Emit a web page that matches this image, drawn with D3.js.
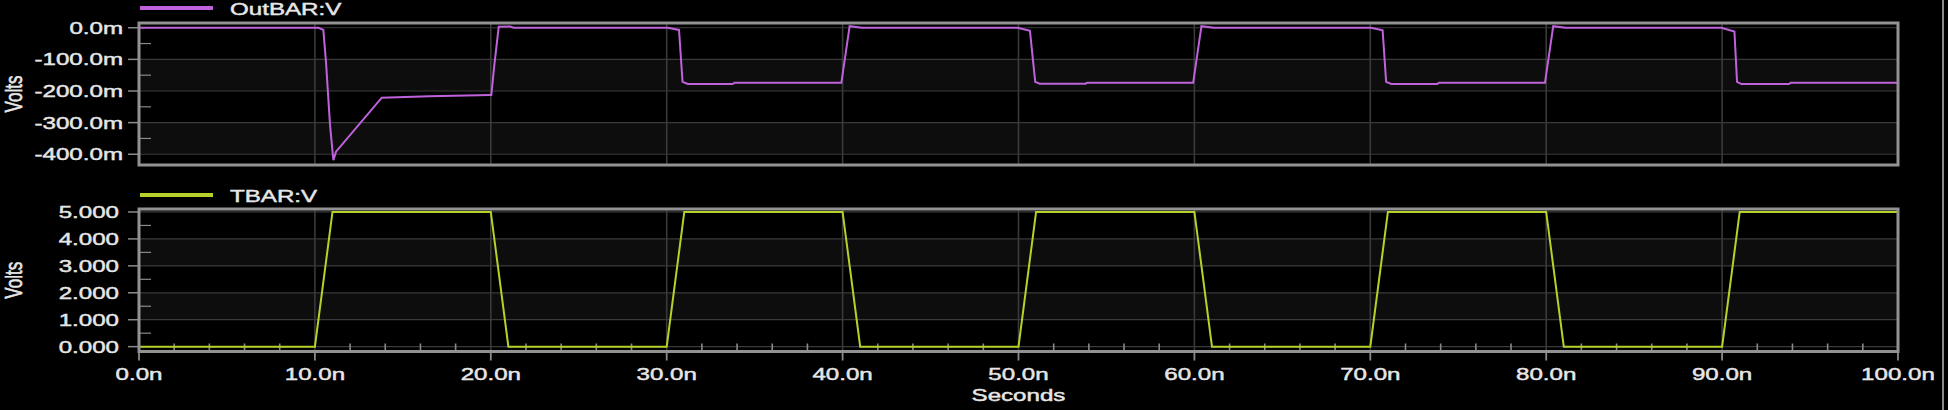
<!DOCTYPE html>
<html><head><meta charset="utf-8">
<script src="https://cdn.jsdelivr.net/npm/d3@7"></script>
<style>html,body{margin:0;padding:0;background:#000;overflow:hidden}</style>
</head><body>
<svg id="c" width="1948" height="410"></svg>
<script>
// ---- data ----
const timeTicks = [0,10,20,30,40,50,60,70,80,90,100];
const timeLabels = ["0.0n","10.0n","20.0n","30.0n","40.0n","50.0n","60.0n","70.0n","80.0n","90.0n","100.0n"];
const outTicks = [0,-100,-200,-300,-400];
const outLabels = ["0.0m","-100.0m","-200.0m","-300.0m","-400.0m"];
const outMinor = [-50,-150,-250,-350];
const tbarTicks = [5,4,3,2,1,0];
const tbarLabels = ["5.000","4.000","3.000","2.000","1.000","0.000"];
const tbarMinor = [4.5,3.5,2.5,1.5,0.5];

// OutBAR:V (time in ns, value in mV)
const outTime = [0,10.2,10.48,10.63,10.86,11.05,11.2,13.8,16.5,18.6,19.95,20.03,20.2,20.45,21.1,21.3,
  30.05,30.7,30.9,31.2,33.75,33.85,39.93,40.4,41.1,
  49.95,50.65,50.95,51.2,53.8,53.9,59.93,60.4,61.1,
  70.05,70.7,70.9,71.2,73.8,73.9,79.93,80.4,81.1,
  89.95,90.7,90.85,91.1,93.8,93.9,100];
const outVals = [0,0,-7,-108,-308,-419,-392,-221,-217,-214,-213,-213,-118,3,4,0,
  0,-7,-171,-178,-178,-174,-174,5,0,
  0,-10,-171,-177,-177,-174,-174,5,0,
  0,-8,-171,-178,-178,-174,-174,5,0,
  0,-12,-171,-178,-178,-174,-174];

// TBAR:V (time in ns, value in V)
const tbarTime = [0,10,11,20,21,30,31,40,41,50,51,60,61,70,71,80,81,90,91,100];
const tbarVals = [0,0,5,5,0,0,5,5,0,0,5,5,0,0,5,5,0,0,5,5];

// ---- layout ----
const SX = 1.42; // horizontal text stretch of the original screenshot
const svg = d3.select("#c");
svg.append("rect").attr("width",1948).attr("height",410).attr("fill","#000");
const x = d3.scaleLinear().domain([0,100]).range([139,1898]);
const textCol = "#e6e6e6", font = "Liberation Sans, Arial, sans-serif";

function stretchedText(g, tx, ty, str, anchor, size, rot){
  return g.append("text").attr("transform",`translate(${tx},${ty}) scale(${SX},1)` + (rot?` rotate(${rot})`:""))
    .attr("text-anchor",anchor).attr("fill",textCol).attr("stroke",textCol).attr("stroke-width",0.45)
    .attr("font-family",font).attr("font-size",size).text(str);
}

const panels = [
  {top:23, bottom:165, domain:[-434,15], ticks:outTicks, labels:outLabels, minor:outMinor,
   legend:"OutBAR:V", legendY:8, color:"#c062dc", t:outTime, v:outVals, labelEnd:123, xlabels:false},
  {top:209, bottom:351.5, domain:[-0.18,5.11], ticks:tbarTicks, labels:tbarLabels, minor:tbarMinor,
   legend:"TBAR:V", legendY:195, color:"#b9d02a", t:tbarTime, v:tbarVals, labelEnd:119, xlabels:true}
];

panels.forEach(p=>{
  const y = d3.scaleLinear().domain(p.domain).range([p.bottom,p.top]);
  const g = svg.append("g");
  // bands
  for(let i=0;i<p.ticks.length-1;i++){
    if(i%2===1){
      const y0=y(p.ticks[i]), y1=y(p.ticks[i+1]);
      g.append("rect").attr("x",x(0)).attr("width",x(100)-x(0))
        .attr("y",Math.min(y0,y1)).attr("height",Math.abs(y1-y0)).attr("fill","#0d0d0d");
    }
  }
  // grid
  g.selectAll(".hg").data(p.ticks).enter().append("line")
    .attr("x1",x(0)).attr("x2",x(100)).attr("y1",d=>y(d)).attr("y2",d=>y(d))
    .attr("stroke","#3a3a3a").attr("stroke-width",1.2);
  g.selectAll(".vg").data(timeTicks.slice(1,-1)).enter().append("line")
    .attr("x1",d=>x(d)).attr("x2",d=>x(d)).attr("y1",p.top).attr("y2",p.bottom)
    .attr("stroke","#3a3a3a").attr("stroke-width",1.6);
  // minor y ticks
  g.selectAll(".my").data(p.minor).enter().append("line")
    .attr("x1",x(0)).attr("x2",x(0)+12).attr("y1",d=>y(d)).attr("y2",d=>y(d))
    .attr("stroke","#8a8a8a").attr("stroke-width",1.2);
  // major y tick stubs
  g.selectAll(".My").data(p.ticks).enter().append("line")
    .attr("x1",x(0)-11).attr("x2",x(0)).attr("y1",d=>y(d)).attr("y2",d=>y(d))
    .attr("stroke","#8a8a8a").attr("stroke-width",1.5);
  if(p.xlabels){
    const minorX = d3.range(0,101,2).filter(d=>d%10!==0);
    g.selectAll(".mx").data(minorX).enter().append("line")
      .attr("x1",d=>x(d)).attr("x2",d=>x(d)).attr("y1",p.bottom).attr("y2",p.bottom-8)
      .attr("stroke","#8a8a8a").attr("stroke-width",1.6);
    g.selectAll(".Mx").data(timeTicks).enter().append("line")
      .attr("x1",d=>x(d)).attr("x2",d=>x(d)).attr("y1",p.bottom).attr("y2",p.bottom+9)
      .attr("stroke","#8a8a8a").attr("stroke-width",1.8);
    timeTicks.forEach((d,i)=>stretchedText(g,x(d),380,timeLabels[i],"middle",17));
    stretchedText(g,x(50),401,"Seconds","middle",17);
  }
  // series line
  const line = d3.line().x((d,i)=>x(p.t[i])).y((d,i)=>y(p.v[i]));
  g.append("path").datum(p.v).attr("d",line).attr("fill","none")
    .attr("stroke",p.color).attr("stroke-width",2);
  // frame
  g.append("rect").attr("x",x(0)).attr("y",p.top).attr("width",x(100)-x(0)).attr("height",p.bottom-p.top)
    .attr("fill","none").attr("stroke","#929292").attr("stroke-width",3);
  // y labels
  p.ticks.forEach((d,i)=>stretchedText(g,p.labelEnd,y(d)+6,p.labels[i],"end",17));
  // axis title
  stretchedText(g,22,(p.top+p.bottom)/2,"Volts","middle",17,-90);
  // legend
  g.append("line").attr("x1",140).attr("x2",213).attr("y1",p.legendY).attr("y2",p.legendY)
    .attr("stroke",p.color).attr("stroke-width",4);
  stretchedText(g,230,p.legendY+6.5,p.legend,"start",17);
});
// right window border
svg.append("line").attr("x1",1943).attr("x2",1943).attr("y1",0).attr("y2",410)
  .attr("stroke","#b8b8b8").attr("stroke-width",1.5);
</script>
</body></html>
